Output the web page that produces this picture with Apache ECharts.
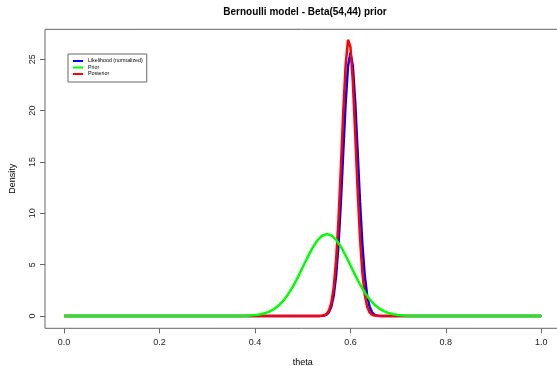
<!DOCTYPE html>
<html>
<head>
<meta charset="utf-8">
<script src="https://cdn.jsdelivr.net/npm/echarts@6/dist/echarts.min.js"></script>
<style>
  html, body { margin: 0; padding: 0; background: #fff; }
  #chart { width: 557px; height: 366px; }
</style>
</head>
<body>
<div id="chart"></div>
<script>
// Values
const xTicks = [0, 0.2, 0.4, 0.6, 0.8, 1.0];
const yTicks = [0, 5, 10, 15, 20, 25];

// Likelihood (normalized) - blue
const likTheta = [0, 0.53, 0.535, 0.54, 0.545, 0.55, 0.555, 0.56, 0.565, 0.57, 0.575, 0.58, 0.585, 0.59, 0.595,
  0.6, 0.605, 0.61, 0.615, 0.62, 0.625, 0.63, 0.635, 0.64, 0.645, 0.65, 0.655, 0.66, 0.665, 0.67, 1];
const likDensity = [0, 0, 0.004, 0.014, 0.047, 0.14, 0.38, 0.92, 2.0, 3.94, 6.98, 11.16, 16.06, 20.83, 24.35,
  25.65, 24.35, 20.83, 16.06, 11.16, 6.98, 3.94, 2.0, 0.92, 0.38, 0.14, 0.047, 0.014, 0.004, 0, 0];

// Prior Beta(54,44) - green
const priorTheta = [0, 0.36, 0.37, 0.38, 0.39, 0.40, 0.41, 0.42, 0.43, 0.44, 0.45, 0.46, 0.47, 0.48, 0.49,
  0.50, 0.51, 0.52, 0.53, 0.54, 0.55, 0.56, 0.57, 0.58, 0.59, 0.60, 0.61, 0.62, 0.63, 0.64,
  0.65, 0.66, 0.67, 0.68, 0.69, 0.70, 0.71, 0.72, 0.73, 1];
const priorDensity = [0, 0, 0.01, 0.023, 0.045, 0.084, 0.149, 0.26, 0.43, 0.68, 1.04, 1.52, 2.15, 2.91, 3.79,
  4.74, 5.70, 6.59, 7.31, 7.79, 7.98, 7.85, 7.42, 6.75, 5.89, 4.94, 3.98, 3.08, 2.29, 1.64,
  1.12, 0.74, 0.47, 0.285, 0.17, 0.09, 0.05, 0.02, 0, 0];

// Posterior - red
const postTheta = [0, 0.525, 0.53, 0.535, 0.54, 0.545, 0.55, 0.555, 0.56, 0.565, 0.57, 0.575, 0.58, 0.585, 0.59,
  0.595, 0.6, 0.605, 0.61, 0.615, 0.62, 0.625, 0.63, 0.635, 0.64, 0.645, 0.65, 0.655, 0.66, 0.665, 1];
const postDensity = [0, 0, 0.001, 0.005, 0.018, 0.064, 0.19, 0.53, 1.29, 2.79, 5.44, 9.38, 14.47, 19.93, 24.47,
  26.9, 26.21, 22.86, 17.78, 12.34, 7.64, 4.22, 2.08, 0.92, 0.36, 0.125, 0.04, 0.012, 0.003, 0, 0];

const FONT = 'Liberation Sans, Arial, sans-serif';
const AXIS_COLOR = '#666';
const LINE_WIDTH = 2.5;

const pairs = (xs, ys) => xs.map((x, i) => [x, ys[i]]);

const chart = echarts.init(document.getElementById('chart'), null, { renderer: 'canvas' });

chart.setOption({
  animation: false,
  backgroundColor: '#fff',
  textStyle: { fontFamily: FONT },
  title: {
    text: 'Bernoulli model - Beta(54,44) prior',
    left: 305, top: 7, textAlign: 'center', padding: 0,
    textStyle: { fontSize: 10, fontWeight: 'bold', color: '#000', fontFamily: FONT }
  },
  legend: {
    data: ['Likelihood (normalized)', 'Prior', 'Posterior'],
    orient: 'vertical',
    left: 68, top: 54,
    padding: [4.5, 4, 5.5, 5],
    itemWidth: 10, itemHeight: 2, itemGap: 1.5,
    icon: 'rect',
    backgroundColor: '#fff',
    borderColor: AXIS_COLOR, borderWidth: 1, borderRadius: 0,
    textStyle: { fontSize: 5.3, lineHeight: 5, color: '#000', fontFamily: FONT }
  },
  grid: {
    left: 45, top: 29.3, width: 515.4, height: 299,
    show: true, borderColor: AXIS_COLOR, borderWidth: 1,
    containLabel: false, outerBoundsMode: 'none'
  },
  xAxis: {
    type: 'value', min: -0.04, max: 1.04,
    name: 'theta', nameLocation: 'middle', nameGap: 30,
    nameTextStyle: { fontSize: 9, color: '#000', fontFamily: FONT },
    axisLine: { show: false, onZero: false },
    axisTick: { show: true, customValues: xTicks, length: 5, lineStyle: { color: AXIS_COLOR } },
    axisLabel: { customValues: xTicks, margin: 10, fontSize: 9, color: '#222', fontFamily: FONT,
      formatter: v => v.toFixed(1) },
    splitLine: { show: false }
  },
  yAxis: {
    type: 'value', min: -1.2, max: 27.92,
    name: 'Density', nameLocation: 'middle', nameGap: 28,
    nameTextStyle: { fontSize: 9, color: '#000', fontFamily: FONT },
    axisLine: { show: false, onZero: false },
    axisTick: { show: true, customValues: yTicks, length: 5, lineStyle: { color: AXIS_COLOR } },
    axisLabel: { customValues: yTicks, margin: 8, rotate: 90, fontSize: 9, color: '#222', fontFamily: FONT },
    splitLine: { show: false }
  },
  series: [
    {
      name: 'Likelihood (normalized)', type: 'line', showSymbol: false, symbol: 'none',
      data: pairs(likTheta, likDensity),
      color: '#0000ff', lineStyle: { width: LINE_WIDTH, color: '#0000ff' }
    },
    {
      name: 'Posterior', type: 'line', showSymbol: false, symbol: 'none',
      data: pairs(postTheta, postDensity),
      color: '#ff0000', lineStyle: { width: LINE_WIDTH, color: '#ff0000' }
    },
    {
      name: 'Prior', type: 'line', showSymbol: false, symbol: 'none',
      data: pairs(priorTheta, priorDensity),
      color: '#00ff00', lineStyle: { width: LINE_WIDTH, color: '#00ff00' }
    }
  ]
});
</script>
</body>
</html>
